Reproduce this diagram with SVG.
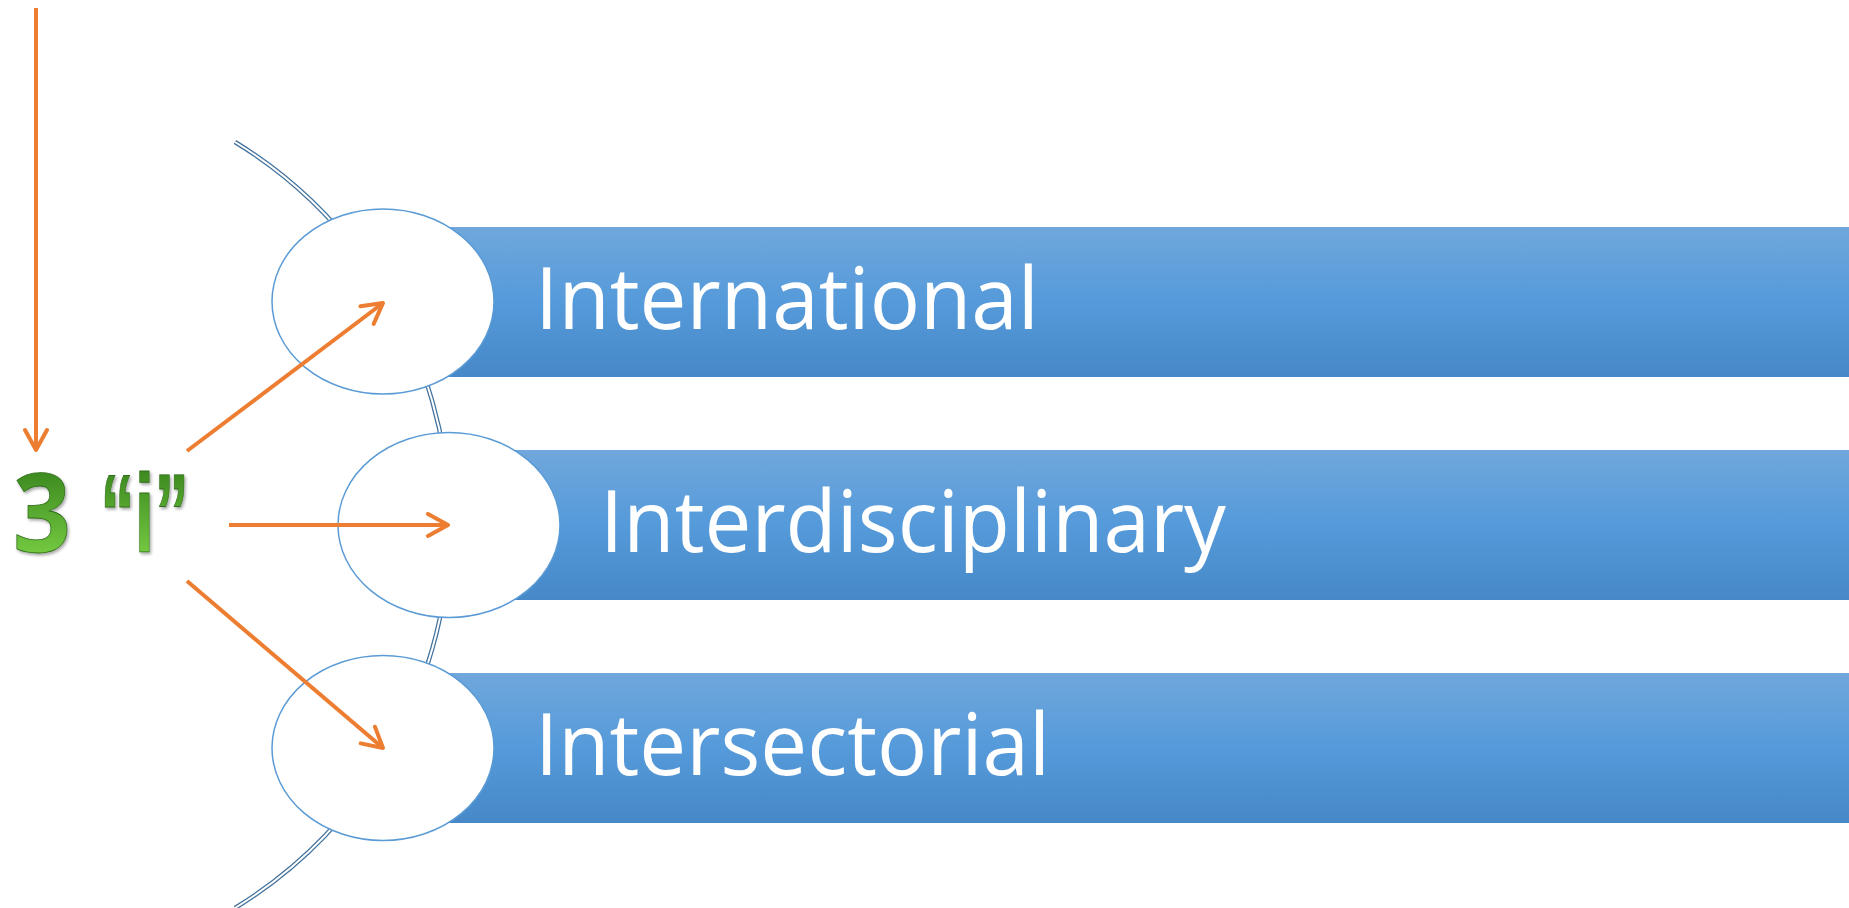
<svg xmlns="http://www.w3.org/2000/svg" width="1849" height="908" viewBox="0 0 1849 908">
<style>
.bar{fill:url(#barGrad)}
.node{fill:#ffffff;stroke:#5b9bd5;stroke-width:1.5}
.lbl{font-family:"Open Sans","Liberation Sans",sans-serif;font-size:86px;fill:#ffffff}
.arr{stroke:#ed7d31;stroke-width:4;fill:none;marker-end:url(#head)}
.big{font-family:"Open Sans","Liberation Sans",sans-serif;font-weight:bold;font-size:110px;fill:url(#greenGrad);stroke:#2f6e1a;stroke-width:0.8}
.quote{font-family:"Liberation Sans",sans-serif;font-weight:bold;font-size:112px;fill:url(#greenGrad);stroke:#2f6e1a;stroke-width:0.8}
</style>
<defs>
<linearGradient id="barGrad" x1="0" y1="0" x2="0" y2="1">
<stop offset="0" stop-color="#70a7dc"/>
<stop offset="0.5" stop-color="#559ada"/>
<stop offset="1" stop-color="#4688c8"/>
</linearGradient>
<linearGradient id="greenGrad" gradientUnits="userSpaceOnUse" x1="0" y1="467" x2="0" y2="552">
<stop offset="0" stop-color="#3a861f"/>
<stop offset="1" stop-color="#72c83f"/>
</linearGradient>
<filter id="shadow" x="-20%" y="-20%" width="140%" height="140%">
<feDropShadow dx="1.5" dy="2" stdDeviation="1.5" flood-color="#000" flood-opacity="0.35"/>
</filter>
<marker id="head" markerUnits="userSpaceOnUse" markerWidth="30" markerHeight="30" refX="24" refY="13" orient="auto">
<path d="M4,2 L24,13 L4,24" fill="none" stroke="#ed7d31" stroke-width="4" stroke-linecap="round" stroke-linejoin="round"/>
</marker>
</defs>
<g id="arc">
<path d="M235,142 A449,449 0 0 1 235,908" fill="none" stroke="#41719c" stroke-width="4.5"/>
<path d="M235,142 A449,449 0 0 1 235,908" fill="none" stroke="#ffffff" stroke-width="2"/>
</g>
<g id="node-international">
<rect class="bar" x="383" y="227" width="1466" height="150"/>
<ellipse class="node" cx="383" cy="301.5" rx="111" ry="92.5"/>
<text class="lbl" x="535" y="329" textLength="504" lengthAdjust="spacingAndGlyphs">International</text>
</g>
<g id="node-interdisciplinary">
<rect class="bar" x="449" y="450" width="1400" height="150"/>
<ellipse class="node" cx="449" cy="525" rx="111" ry="92.5"/>
<text class="lbl" x="600" y="552" textLength="626" lengthAdjust="spacingAndGlyphs">Interdisciplinary</text>
</g>
<g id="node-intersectorial">
<rect class="bar" x="383" y="673" width="1466" height="150"/>
<ellipse class="node" cx="383" cy="748" rx="111" ry="92.5"/>
<text class="lbl" x="535" y="775" textLength="515" lengthAdjust="spacingAndGlyphs">Intersectorial</text>
</g>
<g id="node-3i" filter="url(#shadow)">
<text class="big" x="13" y="552" textLength="58" lengthAdjust="spacingAndGlyphs">3</text>
<text class="quote" x="100" y="552" textLength="89" lengthAdjust="spacingAndGlyphs">“i”</text>
</g>
<g id="connectors">
<line class="arr" x1="36" y1="8" x2="36" y2="450"/>
<line class="arr" x1="187" y1="451" x2="383" y2="303"/>
<line class="arr" x1="229" y1="525" x2="448" y2="525"/>
<line class="arr" x1="187" y1="581" x2="383" y2="748"/>
</g>
</svg>
